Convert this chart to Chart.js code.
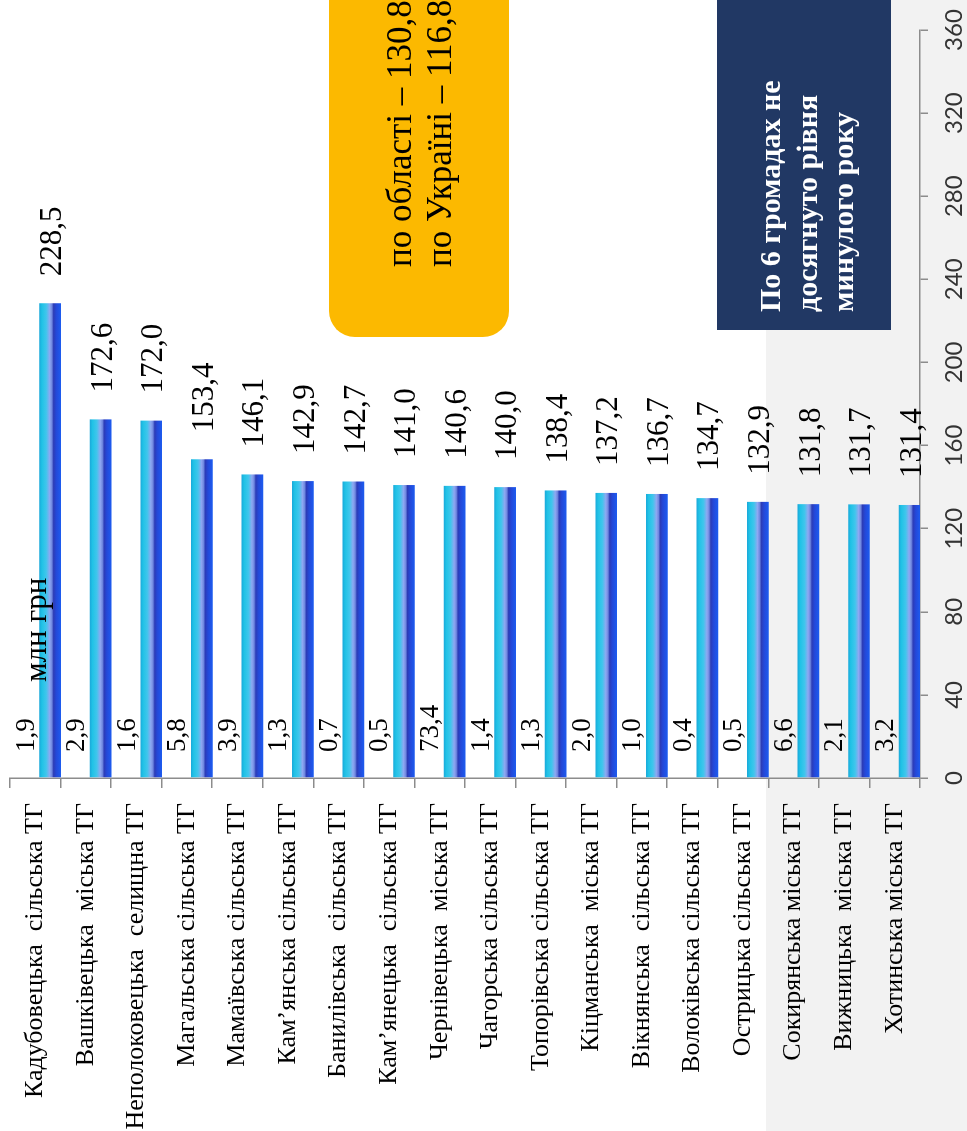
<!DOCTYPE html>
<html>
<head>
<meta charset="utf-8">
<script src="https://cdn.jsdelivr.net/npm/chart.js@4.4.1/dist/chart.umd.min.js"></script>
<style>
html,body{margin:0;padding:0;background:#fff;overflow:hidden;}
#page{position:absolute;left:0;top:0;width:967px;height:1131px;overflow:hidden;background:#fff;}
#rot{position:absolute;left:0;top:0;width:1131px;height:967px;overflow:hidden;background:#fff;
  transform-origin:0 0;transform:translateY(1131px) rotate(-90deg);}
#band{position:absolute;left:0;top:766px;width:1131px;height:201px;background:#f2f2f2;}
#wrap{position:absolute;left:0;top:0;width:1131px;height:1000px;}
#orange{position:absolute;left:794px;top:329px;width:420px;height:180px;background:#fcb900;border-radius:26px;}
.otext{position:absolute;left:70px;font-family:'Liberation Serif',serif;font-size:35px;line-height:35px;color:#000;white-space:nowrap;}
#navy{position:absolute;left:801px;top:717px;width:420px;height:174px;background:#213864;}
.ntext{position:absolute;left:18px;font-family:'Liberation Serif',serif;font-weight:bold;font-size:30px;line-height:30px;color:#fff;white-space:nowrap;}
#unit{position:absolute;left:449px;top:20px;font-family:'Liberation Serif',serif;font-size:31px;line-height:31px;color:#000;white-space:nowrap;}
</style>
</head>
<body>
<div id="page">
 <div id="rot">
  <div id="band"></div>
  <div id="wrap"><canvas id="c" width="1131" height="1000"></canvas></div>
  <div id="unit">млн грн</div>
  <div id="orange">
    <div class="otext" style="top:53px">по області – 130,8%</div>
    <div class="otext" style="top:93px">по Україні – 116,8%</div>
  </div>
  <div id="navy">
    <div class="ntext" style="top:38px">По 6 громадах не</div>
    <div class="ntext" style="top:75px">досягнуто рівня</div>
    <div class="ntext" style="top:111px">минулого року</div>
  </div>
 </div>
</div>
<script>
const categories = [
  'Кадубовецька  сільська ТГ',
  'Вашківецька  міська ТГ',
  'Неполоковецька  селищна ТГ',
  'Магальська сільська ТГ',
  'Мамаївська сільська ТГ',
  'Кам’янська сільська ТГ',
  'Банилівська  сільська ТГ',
  'Кам’янецька  сільська ТГ',
  'Чернівецька  міська ТГ',
  'Чагорська сільська ТГ',
  'Топорівська сільська ТГ',
  'Кіцманська  міська ТГ',
  'Вікнянська  сільська ТГ',
  'Волоківська сільська ТГ',
  'Острицька сільська ТГ',
  'Сокирянська міська ТГ',
  'Вижницька  міська ТГ',
  'Хотинська міська ТГ'
];
const amounts = [228.5, 172.6, 172.0, 153.4, 146.1, 142.9, 142.7, 141.0, 140.6, 140.0, 138.4, 137.2, 136.7, 134.7, 132.9, 131.8, 131.7, 131.4];
const smallValues = [1.9, 2.9, 1.6, 5.8, 3.9, 1.3, 0.7, 0.5, 73.4, 1.4, 1.3, 2.0, 1.0, 0.4, 0.5, 6.6, 2.1, 3.2];
const axisMin = 0, axisMax = 360, axisStep = 40;

const CAT_PCT = 1.175, BAR_PCT = 0.73;
const fmt = v => v.toFixed(1).replace('.', ',');

function barGradient(ctx) {
  const chart = ctx.chart;
  const ys = chart.scales && chart.scales.y;
  if (!chart.chartArea || !ys || ys.getPixelForValue(0) == null) return '#2a7de0';
  const c0 = ys.getPixelForValue(0), c1 = ys.getPixelForValue(1);
  const slot = Math.abs(c1 - c0);
  if (!isFinite(slot) || slot === 0) return '#2a7de0';
  const center = ys.getPixelForValue(ctx.dataIndex);
  const chunk = slot * CAT_PCT / 2;
  const top = center + chunk * (1 - BAR_PCT) / 2;
  const bot = top + chunk * BAR_PCT;
  const g = chart.ctx.createLinearGradient(0, top, 0, bot);
  g.addColorStop(0.00, '#1aa8da');
  g.addColorStop(0.12, '#20c2e6');
  g.addColorStop(0.32, '#40c6ec');
  g.addColorStop(0.48, '#8ea8f2');
  g.addColorStop(0.58, '#7088e0');
  g.addColorStop(0.66, '#2c3cb6');
  g.addColorStop(0.78, '#2448d8');
  g.addColorStop(1.00, '#1c5cf0');
  return g;
}

const labelPlugin = {
  id: 'labels',
  afterDatasetsDraw(chart) {
    const c = chart.ctx;
    const xs = chart.scales.x;
    c.save();
    c.fillStyle = '#000';
    c.textAlign = 'left';
    c.textBaseline = 'middle';
    c.font = '31px "Liberation Serif"';
    chart.getDatasetMeta(1).data.forEach((el, i) => {
      c.fillText(fmt(amounts[i]), el.x + 27, el.y + 3);
    });
    c.font = '27px "Liberation Serif"';
    const x0 = xs.getPixelForValue(0);
    chart.getDatasetMeta(0).data.forEach((el, i) => {
      c.fillText(fmt(smallValues[i]), x0 + 26, el.y + 6);
    });
    c.restore();
  }
};

const axisColor = '#8c8c8c';
new Chart(document.getElementById('c'), {
  type: 'bar',
  data: {
    labels: categories,
    datasets: [
      { data: smallValues, backgroundColor: 'rgba(0,0,0,0)', borderWidth: 0, categoryPercentage: CAT_PCT, barPercentage: BAR_PCT },
      { data: amounts, backgroundColor: barGradient, borderWidth: 0, categoryPercentage: CAT_PCT, barPercentage: BAR_PCT }
    ]
  },
  options: {
    indexAxis: 'y',
    responsive: false,
    animation: false,
    layout: { padding: { top: 10, right: 30, left: 0, bottom: 0 } },
    plugins: { legend: { display: false }, tooltip: { enabled: false } },
    scales: {
      x: {
        type: 'linear', position: 'bottom', min: axisMin, max: axisMax,
        ticks: { stepSize: axisStep, maxRotation: 0, autoSkip: false, font: { family: 'Lato', size: 24 }, color: '#333', padding: 12 },
        grid: { drawOnChartArea: false, drawTicks: true, tickLength: 8, color: axisColor, lineWidth: 1.5 },
        border: { display: true, color: axisColor, width: 1.5 },
        afterFit(s) { s.height = 80; s.paddingLeft = 0; s.paddingRight = 0; }
      },
      y: {
        type: 'category', offset: true,
        ticks: { autoSkip: false, font: { family: 'Liberation Serif', size: 26 }, color: '#000', padding: 15 },
        grid: { drawOnChartArea: false, drawTicks: true, tickLength: 10, color: axisColor, lineWidth: 1.5, offset: true },
        border: { display: true, color: axisColor, width: 1.5 },
        afterFit(s) { s.width = 353; s.paddingTop = 0; s.paddingBottom = 0; }
      }
    }
  },
  plugins: [labelPlugin]
});
</script>
</body>
</html>
